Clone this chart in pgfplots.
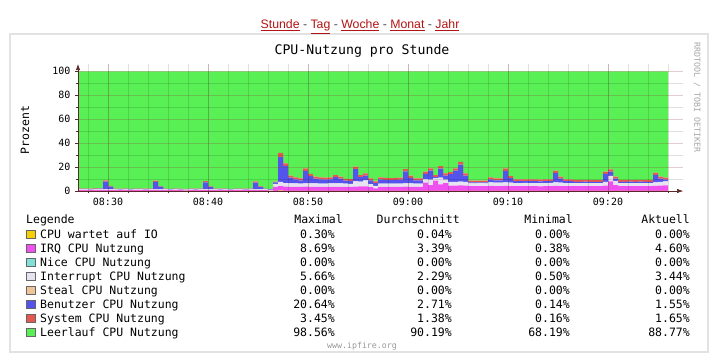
\documentclass[border=0pt]{standalone}
\usepackage{pgfplots}
\pgfplotsset{compat=1.18}
\usepackage{pgfplotstable}
\usepackage{fontspec}
\setmainfont{Liberation Sans}
\setmonofont{DejaVu Sans Mono}
\usetikzlibrary{arrows.meta}
\definecolor{cIO}{RGB}{245,208,0}
\definecolor{cIRQ}{RGB}{240,80,240}
\definecolor{cNice}{RGB}{128,224,216}
\definecolor{cInt}{RGB}{230,226,240}
\definecolor{cSteal}{RGB}{240,196,150}
\definecolor{cUsr}{RGB}{84,84,236}
\definecolor{cSys}{RGB}{228,88,80}
\definecolor{cIdle}{RGB}{88,240,84}
\definecolor{axiscol}{RGB}{90,40,40}
\definecolor{gridmaj}{RGB}{140,60,60}
\definecolor{linkcol}{RGB}{178,20,20}
\definecolor{panel}{RGB}{226,226,226}
\pgfplotstableread{
t io irq int usr sys idle
27 0 0.8 0.5 0.4 0.3 98.0
27.5 0 0.8 0.5 0.4 0.3 98.0
28 0 0.7 0.5 0.4 0.3 98.1
28.5 0 0.8 0.5 0.5 0.3 97.9
29 0 0.8 0.6 0.5 0.3 97.8
29.5 0 0.9 0.6 6.4 1.0 91.1
30 0 0.8 0.6 2.3 0.6 95.7
30.5 0 0.8 0.5 0.4 0.3 98.0
31 0 0.7 0.5 0.4 0.3 98.1
31.5 0 0.8 0.5 0.4 0.3 98.0
32 0 0.7 0.5 0.3 0.3 98.2
32.5 0 0.8 0.5 0.4 0.3 98.0
33 0 0.8 0.5 0.4 0.3 98.0
33.5 0 0.7 0.5 0.4 0.3 98.1
34 0 0.8 0.5 0.4 0.3 98.0
34.5 0 0.9 0.6 6.2 1.0 91.3
35 0 0.8 0.6 2.2 0.5 95.9
35.5 0 0.8 0.5 0.4 0.3 98.0
36 0 0.7 0.5 0.3 0.3 98.2
36.5 0 0.8 0.5 0.4 0.3 98.0
37 0 0.7 0.5 0.4 0.3 98.1
37.5 0 0.6 0.5 0.14 0.2 98.56
38 0 0.8 0.5 0.4 0.3 98.0
38.5 0 0.7 0.5 0.4 0.3 98.1
39 0 0.8 0.5 0.4 0.3 98.0
39.5 0 0.9 0.6 5.8 1.0 91.7
40 0 0.8 0.6 2.0 0.5 96.1
40.5 0 0.8 0.5 0.4 0.3 98.0
41 0 0.7 0.5 0.4 0.3 98.1
41.5 0 0.8 0.5 0.4 0.3 98.0
42 0 0.7 0.5 0.3 0.16 98.34
42.5 0 0.8 0.5 0.4 0.3 98.0
43 0 0.8 0.5 0.4 0.3 98.0
43.5 0 0.7 0.5 0.4 0.3 98.1
44 0 0.8 0.5 0.4 0.3 98.0
44.5 0 0.9 0.6 5.5 1.0 92.0
45 0 0.8 0.6 2.0 0.5 96.1
45.5 0 0.8 0.5 0.4 0.3 98.0
46 0 0.38 0.5 0.4 0.3 98.42
46.5 0 3.5 2.5 1.3 0.5 92.2
47 0.3 3.7 3.72 20.64 3.45 68.19
47.5 0 3.6 3.0 14.4 2.0 77.0
48 0 3.5 2.8 4.8 1.7 87.2
48.5 0 3.5 2.8 3.4 1.7 88.6
49 0 3.5 2.7 2.7 1.6 89.5
49.5 0 3.6 2.8 10.5 2.0 81.1
50 0 3.5 2.8 6.1 1.8 85.8
50.5 0 3.5 2.8 4.0 1.7 88.0
51 0 3.5 2.7 3.5 1.7 88.6
51.5 0 3.4 2.7 3.4 1.7 88.8
52 0 3.5 2.8 3.4 1.7 88.6
52.5 0 3.5 2.8 5.2 1.8 86.7
53 0 3.5 2.8 4.0 1.7 88.0
53.5 0 3.4 2.7 2.5 1.6 89.8
54 0 3.4 2.6 2.4 1.6 90.0
54.5 0 3.6 4.5 10.2 2.0 79.7
55 0 3.8 4.0 3.7 1.8 86.7
55.5 0 3.8 5.0 4.1 1.8 85.3
56 0 3.2 2.6 3.1 1.6 89.5
56.5 0 2.2 2.0 2.4 1.4 92.0
57 0 3.4 2.8 3.5 1.7 88.6
57.5 0 3.4 2.7 3.2 1.7 89.0
58 0 3.4 2.7 3.0 1.7 89.2
58.5 0 3.4 2.7 3.2 1.7 89.0
59 0 3.5 2.7 3.3 1.7 88.8
59.5 0 3.6 2.8 9.9 2.0 81.7
60 0 3.5 2.8 4.7 1.8 87.2
60.5 0 3.4 2.7 2.8 1.6 89.5
61 0 3.4 2.7 2.8 1.6 89.5
61.5 0 7.0 3.0 4.3 1.8 83.9
62 0 5.0 4.5 7.5 1.9 81.1
62.5 0 8.69 2.0 1.0 1.6 86.71
63 0 5.5 5.66 7.6 2.0 79.24
63.5 0 6.5 3.0 3.4 1.8 85.3
64 0 4.5 3.2 6.3 1.8 84.2
64.5 0 4.5 3.2 9.3 1.9 81.1
65 0 4.6 3.3 14.2 2.3 75.6
65.5 0 4.5 3.2 5.2 1.8 85.3
66 0 4.0 2.4 0.8 1.4 91.4
66.5 0 4.0 2.4 0.8 1.4 91.4
67 0 4.0 2.5 0.7 1.4 91.4
67.5 0 4.0 2.4 0.9 1.4 91.3
68 0 4.2 3.0 2.5 1.7 88.6
68.5 0 4.1 2.8 2.0 1.6 89.5
69 0 4.1 2.8 2.0 1.6 89.5
69.5 0 4.2 3.0 9.7 2.0 81.1
70 0 4.1 2.9 3.8 1.7 87.5
70.5 0 4.0 2.6 1.6 1.5 90.3
71 0 4.0 2.6 1.6 1.5 90.3
71.5 0 4.0 2.7 1.5 1.5 90.3
72 0 4.0 2.6 1.7 1.5 90.2
72.5 0 4.0 2.6 1.6 1.5 90.3
73 0 3.9 2.6 1.5 1.5 90.5
73.5 0 4.0 2.6 1.6 1.5 90.3
74 0 4.0 2.7 1.6 1.5 90.2
74.5 0 4.3 3.0 7.8 1.9 83.0
75 0 4.1 2.8 3.4 1.7 88.0
75.5 0 4.0 2.6 1.6 1.5 90.3
76 0 4.0 2.6 1.6 1.5 90.3
76.5 0 4.0 2.5 1.2 1.5 90.8
77 0 4.0 2.5 1.2 1.5 90.8
77.5 0 4.0 2.5 1.3 1.5 90.7
78 0 4.0 2.5 1.2 1.5 90.8
78.5 0 4.0 2.5 1.2 1.5 90.8
79 0 4.0 2.5 1.2 1.5 90.8
79.5 0 4.5 3.2 6.6 1.8 83.9
80 0 8.0 4.6 3.6 1.9 81.9
80.5 0 5.0 3.5 1.9 1.6 88.0
81 0 4.0 2.5 1.2 1.5 90.8
81.5 0 4.0 2.5 1.2 1.5 90.8
82 0 4.0 2.6 1.2 1.5 90.7
82.5 0 4.0 2.5 1.2 1.5 90.8
83 0 4.0 2.5 1.3 1.5 90.7
83.5 0 4.0 2.5 1.2 1.5 90.8
84 0 4.0 2.5 1.2 1.5 90.8
84.5 0 4.3 3.0 6.2 1.8 84.7
85 0 4.4 3.2 2.7 1.7 88.0
85.5 0 4.60 3.44 1.55 1.65 88.76
86 0 4.60 3.44 1.55 1.65 88.76
}\cpu
\newcommand{\lgf}{\ttfamily\fontsize{11.5}{13}\selectfont}
\begin{document}
\begin{tikzpicture}[x=1pt,y=1pt]
\useasboundingbox[fill=white] (0,0) rectangle (720,362);
% panel
\draw[panel, line width=1.5pt] (10,10) rectangle (708,328);
% nav links
\node[anchor=base, inner sep=0, font=\fontsize{12.3}{14}\selectfont] at (360,333)
 {\textcolor{linkcol}{\underline{Stunde}} \textcolor{black!70}{-} \textcolor{linkcol}{\underline{Tag}} \textcolor{black!70}{-} \textcolor{linkcol}{\underline{Woche}} \textcolor{black!70}{-} \textcolor{linkcol}{\underline{Monat}} \textcolor{black!70}{-} \textcolor{linkcol}{\underline{Jahr}}};
% title
\node[anchor=base, inner sep=0, font=\ttfamily\fontsize{13.2}{15}\selectfont] at (362,307) {CPU-Nutzung pro Stunde};
% vertical credit
\node[anchor=west, rotate=-90, inner sep=0, text=black!35, font=\ttfamily\fontsize{8.3}{9}\selectfont] at (697,320) {RRDTOOL / TOBI OETIKER};
% y label
\node[anchor=center, rotate=90, inner sep=0, font=\lgf] at (25,232) {Prozent};
\begin{axis}[
  at={(78pt,171pt)}, anchor=south west, scale only axis,
  width=605pt, height=126.9pt,
  xmin=27, xmax=87.5, ymin=0, ymax=106,
  stack plots=y,
  axis lines=left,
  axis line style={axiscol, line width=0.7pt, -{Latex[length=6pt,width=4.5pt]}},
  axis on top,
  xtick={30,40,50,60,70,80},
  xticklabels={08:30,08:40,08:50,09:00,09:10,09:20},
  minor xtick={28,30,...,86},
  ytick={0,20,40,60,80,100},
  minor ytick={10,30,50,70,90},
  grid=both,
  major grid style={gridmaj, opacity=0.25, line width=0.5pt},
  minor grid style={black, opacity=0.12, line width=0.5pt},
  tick align=outside,
  major tick length=3pt, minor tick length=2pt,
  every tick/.style={axiscol, line width=0.5pt},
  ticklabel style={font=\ttfamily\fontsize{10}{12}\selectfont},
  /pgf/number format/assume math mode=true,
  xticklabel style={yshift=-1pt},
  yticklabel style={xshift=-1pt},
  clip=false,
]
\addplot[fill=cIO, draw=none, const plot] table[x=t,y=io]{\cpu} \closedcycle;
\addplot[fill=cIRQ, draw=none, const plot] table[x=t,y=irq]{\cpu} \closedcycle;
\addplot[fill=cInt, draw=none, const plot] table[x=t,y=int]{\cpu} \closedcycle;
\addplot[fill=cUsr, draw=none, const plot] table[x=t,y=usr]{\cpu} \closedcycle;
\addplot[fill=cSys, draw=none, const plot] table[x=t,y=sys]{\cpu} \closedcycle;
\addplot[fill=cIdle, draw=none, const plot] table[x=t,y=idle]{\cpu} \closedcycle;
\end{axis}
% legend table
\node[anchor=base west, inner sep=0, font=\lgf] at (26,139) {Legende};
\node[anchor=base east, inner sep=0, font=\lgf] at (343,139) {Maximal};
\node[anchor=base east, inner sep=0, font=\lgf] at (460,139) {Durchschnitt};
\node[anchor=base east, inner sep=0, font=\lgf] at (573,139) {Minimal};
\node[anchor=base east, inner sep=0, font=\lgf] at (690,139) {Aktuell};
\foreach \y/\c/\n/\a/\b/\m/\k in {
 128/cIO/CPU wartet auf IO/0.30/0.04/0.00/0.00,
 114/cIRQ/IRQ CPU Nutzung/8.69/3.39/0.38/4.60,
 100/cNice/Nice CPU Nutzung/0.00/0.00/0.00/0.00,
 86/cInt/Interrupt CPU Nutzung/5.66/2.29/0.50/3.44,
 72/cSteal/Steal CPU Nutzung/0.00/0.00/0.00/0.00,
 58/cUsr/Benutzer CPU Nutzung/20.64/2.71/0.14/1.55,
 44/cSys/System CPU Nutzung/3.45/1.38/0.16/1.65,
 30/cIdle/Leerlauf CPU Nutzung/98.56/90.19/68.19/88.77}{
 \draw[fill=\c, draw=black!60, line width=0.6pt] (26.5,\y-4.5) rectangle +(8.5,8.5);
 \node[anchor=base west, inner sep=0, font=\lgf] at (40,\y-4) {\n};
 \node[anchor=base east, inner sep=0, font=\lgf] at (335,\y-4) {\a\%};
 \node[anchor=base east, inner sep=0, font=\lgf] at (452,\y-4) {\b\%};
 \node[anchor=base east, inner sep=0, font=\lgf] at (570,\y-4) {\m\%};
 \node[anchor=base east, inner sep=0, font=\lgf] at (690,\y-4) {\k\%};
}
\node[anchor=center, inner sep=0, text=black!40, font=\ttfamily\fontsize{8.3}{9}\selectfont] at (362,16) {www.ipfire.org};
\end{tikzpicture}
\end{document}
